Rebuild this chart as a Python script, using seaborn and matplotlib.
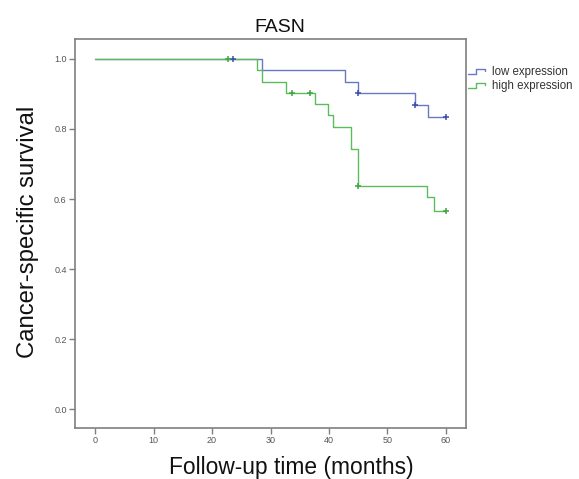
import numpy as np
import pandas as pd
import matplotlib
matplotlib.use("Agg")
import matplotlib.pyplot as plt
import seaborn as sns
from matplotlib.legend_handler import HandlerBase
from matplotlib.lines import Line2D

# ---- data ----
groups = ["low expression", "high expression"]

low_times = [0, 28.6, 42.7, 44.9, 54.7, 56.9, 60]
low_surv = [1.0, 0.968, 0.935, 0.903, 0.868, 0.835, 0.835]
low_cens_t = [23.6, 44.9, 54.7, 60]
low_cens_s = [1.0, 0.903, 0.868, 0.835]

high_times = [0, 27.7, 28.6, 32.7, 37.6, 39.8, 40.7, 43.8, 44.9, 56.7, 57.9, 60]
high_surv = [1.0, 0.968, 0.935, 0.903, 0.871, 0.839, 0.806, 0.742, 0.637, 0.605, 0.565, 0.565]
high_cens_t = [22.7, 33.7, 36.7, 44.9, 60]
high_cens_s = [1.0, 0.903, 0.903, 0.637, 0.565]

x_ticks = [0, 10, 20, 30, 40, 50, 60]
y_ticks = [0.0, 0.2, 0.4, 0.6, 0.8, 1.0]
y_tick_labels = ["0.0", "0.2", "0.4", "0.6", "0.8", "1.0"]

title = "FASN"
xlabel = "Follow-up time (months)"
ylabel = "Cancer-specific survival"

# ---- styling ----
sns.set_theme(style="white")
plt.rcParams["font.family"] = ["Liberation Sans", "DejaVu Sans"]

line_colors = {"low expression": "#6a78c2", "high expression": "#5cbc5c"}
mark_colors = {"low expression": "#3c4ea8", "high expression": "#3ea63e"}

curves = pd.concat([
    pd.DataFrame({"time": low_times, "surv": low_surv, "group": groups[0]}),
    pd.DataFrame({"time": high_times, "surv": high_surv, "group": groups[1]}),
], ignore_index=True)
cens = pd.concat([
    pd.DataFrame({"time": low_cens_t, "surv": low_cens_s, "group": groups[0]}),
    pd.DataFrame({"time": high_cens_t, "surv": high_cens_s, "group": groups[1]}),
], ignore_index=True)

W, H = 579, 479
fig = plt.figure(figsize=(W / 100, H / 100), dpi=100)
L, R, T, B = 75, 466, 39, 428
ax = fig.add_axes([L / W, 1 - B / H, (R - L) / W, (B - T) / H])

sns.lineplot(data=curves, x="time", y="surv", hue="group", palette=line_colors,
             drawstyle="steps-post", estimator=None, sort=False, linewidth=1.0,
             legend=False, ax=ax)
sns.scatterplot(data=cens, x="time", y="surv", hue="group", palette=mark_colors,
                marker="+", s=20, linewidth=1.1, legend=False, ax=ax, zorder=5)

ax.set_xlim(-3.42, 63.42)
ax.set_ylim(-0.054, 1.057)
ax.set_xticks(x_ticks)
ax.set_yticks(y_ticks)
ax.set_yticklabels(y_tick_labels)

spine_col = "#7f7f7f"
for s in ax.spines.values():
    s.set_color(spine_col)
    s.set_linewidth(1.2)
ax.tick_params(axis="both", which="major", direction="out", length=4, width=1.0,
               color=spine_col, labelsize=6.5, labelcolor="#555555", pad=2,
               bottom=True, left=True)

ax.set_xlabel(xlabel, fontsize=16.4, color="#111111")
ax.set_ylabel(ylabel, fontsize=17.2, color="#111111")
ax.xaxis.set_label_coords((291 - L) / (R - L), (B - 456) / (B - T))
ax.yaxis.set_label_coords((39 - L) / (R - L), (B - 232) / (B - T))

fig.text(280 / W, 1 - 32 / H, title, ha="center", va="baseline", fontsize=14, color="#111111")


class StepHandler(HandlerBase):
    def create_artists(self, legend, orig_handle, xdescent, ydescent, width, height,
                       fontsize, trans):
        x0, y0 = -xdescent, -ydescent
        xs = [x0, x0 + 0.45 * width, x0 + 0.45 * width, x0 + 0.95 * width, x0 + 0.95 * width]
        ys = [y0 + 0.1 * height, y0 + 0.1 * height, y0 + 0.8 * height, y0 + 0.8 * height,
              y0 + 0.5 * height]
        ln = Line2D(xs, ys, color=orig_handle.get_color(), linewidth=1.0)
        ln.set_transform(trans)
        return [ln]


handles = [Line2D([], [], color=line_colors[g]) for g in groups]
fig.legend(handles, groups, loc="upper left", bbox_to_anchor=(468 / W, 1 - 66 / H),
           frameon=False, fontsize=8.3, handlelength=1.55, handletextpad=0.55,
           labelspacing=0.2, borderaxespad=0, borderpad=0,
           handler_map={Line2D: StepHandler()}, labelcolor="#333333")

fig.savefig("out.png", dpi=100)
